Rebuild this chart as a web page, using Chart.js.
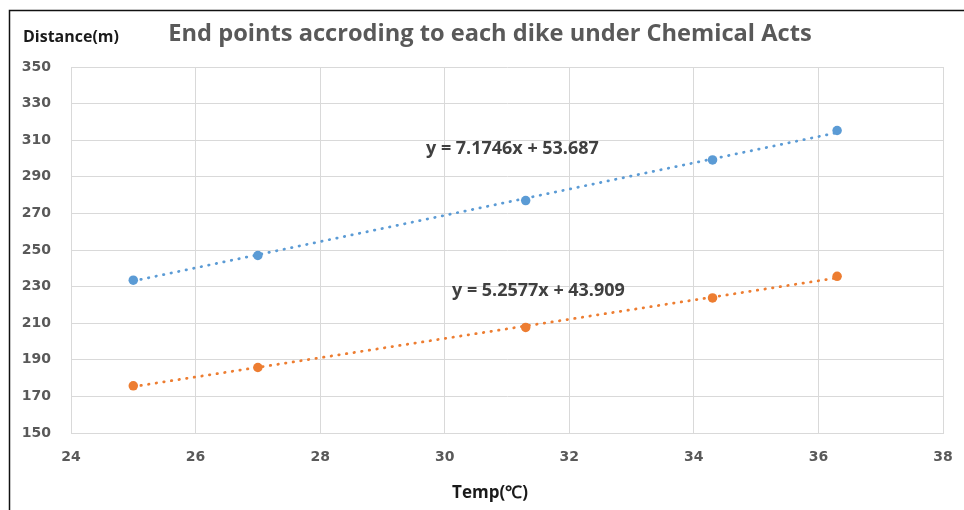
<!DOCTYPE html>
<html>
<head>
<meta charset="utf-8">
<title>End points accroding to each dike under Chemical Acts</title>
<script src="https://cdn.jsdelivr.net/npm/chart.js@4"></script>
<style>
  html, body { margin: 0; padding: 0; background: #fff; }
  #wrap { width: 964px; height: 510px; }
</style>
</head>
<body>
<div id="wrap"><canvas id="chart" width="964" height="510"></canvas></div>
<script>
// data
const tempX = [25, 27, 31.3, 34.3, 36.3];
const distUpper = [233.5, 247, 277, 299.2, 315.3];
const distLower = [175.8, 185.8, 207.7, 223.8, 235.6];
// trendline slope / intercept, as printed on the chart
const trendUpper = [7.1746, 53.687];
const trendLower = [5.2577, 43.909];
const xTicks = [24, 26, 28, 30, 32, 34, 36, 38];
const yTicks = [150, 170, 190, 210, 230, 250, 270, 290, 310, 330, 350];

const BLUE = "#5b9bd5";
const ORANGE = "#ed7d31";
const GRID = "#d9d9d9";

const toPoints = (xs, ys) => xs.map((x, i) => ({ x, y: ys[i] }));
const trendPoints = (xs, coef) => {
  const ends = [xs[0], xs[xs.length - 1]];
  return ends.map((x) => ({ x, y: coef[0] * x + coef[1] }));
};
const eqLabel = (coef) => `y = ${coef[0]}x + ${coef[1]}`;

// draw text scaled so it spans roughly the width seen in the reference
function fitText(ctx, text, x, y, width, family) {
  ctx.font = `bold 20px ${family}`;
  const w = ctx.measureText(text).width;
  const size = (20 * width) / w;
  ctx.font = `bold ${size}px ${family}`;
  ctx.fillText(text, x, y);
}

// titles, frame and equation labels
const textPlugin = {
  id: "texts",
  beforeDraw(chart) {
    const ctx = chart.ctx;
    ctx.save();
    ctx.strokeStyle = "#111";
    ctx.lineWidth = 1.5;
    ctx.beginPath();
    ctx.moveTo(9.5, 510);
    ctx.lineTo(9.5, 10.5);
    ctx.lineTo(964, 10.5);
    ctx.stroke();
    ctx.restore();
  },
  afterDraw(chart) {
    const ctx = chart.ctx;
    ctx.save();
    ctx.textBaseline = "alphabetic";

    ctx.fillStyle = "#595959";
    ctx.textAlign = "center";
    fitText(ctx, "End points accroding to each dike under Chemical Acts", 490, 41, 644, "'Open Sans'");

    ctx.fillStyle = "#1a1a1a";
    ctx.textAlign = "left";
    fitText(ctx, "Distance(m)", 23, 42, 96, "'Open Sans'");

    ctx.textAlign = "center";
    fitText(ctx, "Temp(\u2103)", 490, 498, 76, "'Open Sans'");

    ctx.fillStyle = "#404040";
    ctx.textAlign = "left";
    fitText(ctx, eqLabel(trendUpper), 426, 154, 173, "'Open Sans'");
    fitText(ctx, eqLabel(trendLower), 452, 296, 173, "'Open Sans'");
    ctx.restore();
  },
};

const tickFont = { family: "'DejaVu Sans'", size: 14, weight: "bold" };

new Chart(document.getElementById("chart"), {
  type: "scatter",
  data: {
    datasets: [
      {
        label: "upper",
        data: toPoints(tempX, distUpper),
        backgroundColor: BLUE,
        borderColor: BLUE,
        pointRadius: 4.75,
        borderWidth: 0,
      },
      {
        label: "lower",
        data: toPoints(tempX, distLower),
        backgroundColor: ORANGE,
        borderColor: ORANGE,
        pointRadius: 4.75,
        borderWidth: 0,
      },
      {
        label: "upper trend",
        data: trendPoints(tempX, trendUpper),
        showLine: true,
        pointRadius: 0,
        borderColor: BLUE,
        borderWidth: 2.75,
        borderDash: [0.5, 7.2],
        borderCapStyle: "round",
      },
      {
        label: "lower trend",
        data: trendPoints(tempX, trendLower),
        showLine: true,
        pointRadius: 0,
        borderColor: ORANGE,
        borderWidth: 2.75,
        borderDash: [0.5, 7.2],
        borderCapStyle: "round",
      },
    ],
  },
  options: {
    responsive: false,
    animation: false,
    layout: { padding: { left: 0, right: 21, top: 67, bottom: 0 } },
    plugins: {
      legend: { display: false },
      tooltip: { enabled: false },
      title: { display: false },
    },
    scales: {
      x: {
        type: "linear",
        min: xTicks[0],
        max: xTicks[xTicks.length - 1],
        afterBuildTicks: (axis) => {
          axis.ticks = xTicks.map((v) => ({ value: v }));
        },
        afterFit: (axis) => {
          axis.height = 77;
          // tick padding should not eat into the plot width
          axis.paddingLeft = 0;
          axis.paddingRight = 0;
        },
        grid: { color: GRID, drawTicks: false },
        border: { color: GRID },
        ticks: { color: "#595959", font: tickFont, padding: 16 },
      },
      y: {
        min: yTicks[0],
        max: yTicks[yTicks.length - 1],
        afterBuildTicks: (axis) => {
          axis.ticks = yTicks.map((v) => ({ value: v }));
        },
        afterFit: (axis) => {
          axis.width = 71;
        },
        grid: { color: GRID, drawTicks: false },
        border: { color: GRID },
        ticks: { color: "#595959", font: tickFont, padding: 20 },
      },
    },
  },
  plugins: [textPlugin],
});
</script>
</body>
</html>
